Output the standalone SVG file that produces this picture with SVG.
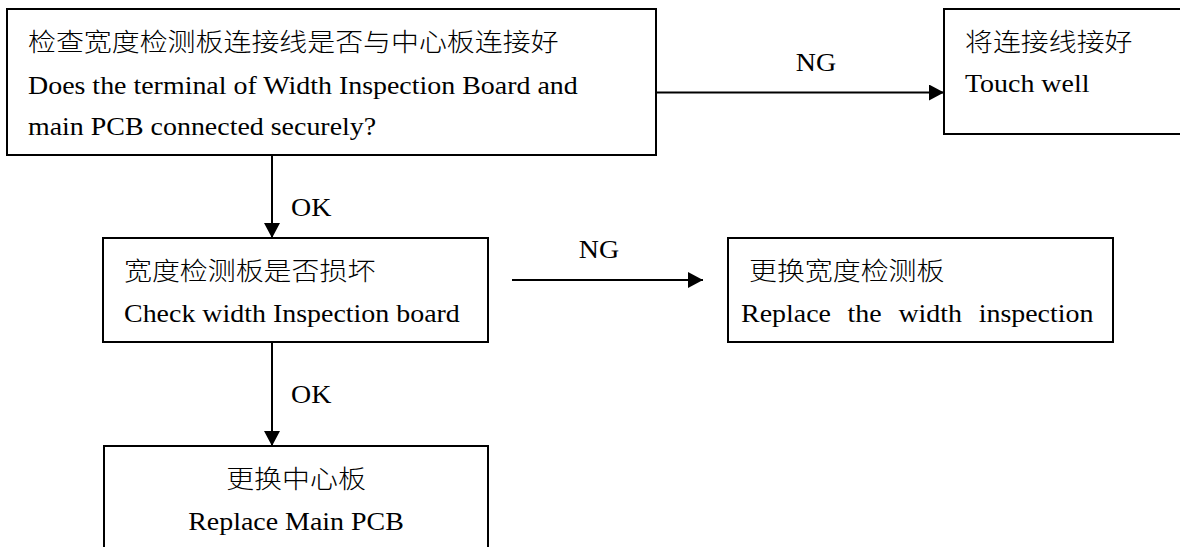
<svg xmlns="http://www.w3.org/2000/svg" width="1180" height="547" viewBox="0 0 1180 547">
<defs>
<style>
.box{fill:#fff;stroke:#000;stroke-width:2}
.conn{fill:none;stroke:#000;stroke-width:2}
.t{font-family:"Liberation Serif","Times New Roman","DejaVu Serif",serif;font-size:24.5px;fill:#000}
.cjk{font-family:"Noto Sans CJK SC","Noto Sans CJK JP",sans-serif;font-weight:300}
.mid{text-anchor:middle}
</style>
<marker id="arr" markerUnits="userSpaceOnUse" markerWidth="16" markerHeight="16" refX="15" refY="8" orient="auto" viewBox="0 0 16 16">
<path d="M0,0 L15,8 L0,16 Z" fill="#000"/>
</marker>
</defs>
<rect width="1180" height="547" fill="#fff"/>
<g id="connectors">
<line class="conn" x1="656" y1="92.5" x2="944" y2="92.5" marker-end="url(#arr)"/>
<line class="conn" x1="272" y1="155" x2="272" y2="238" marker-end="url(#arr)"/>
<line class="conn" x1="512" y1="280" x2="703" y2="280" marker-end="url(#arr)"/>
<line class="conn" x1="272" y1="342" x2="272" y2="446" marker-end="url(#arr)"/>
<text class="t mid" transform="translate(816,71) scale(1.14,1)">NG</text>
<text class="t" transform="translate(291,216) scale(1.14,1)">OK</text>
<text class="t mid" transform="translate(599,258) scale(1.14,1)">NG</text>
<text class="t" transform="translate(291,403) scale(1.14,1)">OK</text>
</g>
<g id="node-check-terminal">
<rect class="box" x="7" y="9" width="649" height="146"/>
<text class="t cjk" transform="translate(28,51) scale(1.14,1)">检查宽度检测板连接线是否与中心板连接好</text>
<text class="t" transform="translate(28,94) scale(1.14,1)">Does the terminal of Width Inspection Board and</text>
<text class="t" transform="translate(28,135) scale(1.14,1)">main PCB connected securely?</text>
</g>
<g id="node-touch-well">
<rect class="box" x="944" y="9" width="260" height="125"/>
<text class="t cjk" transform="translate(965,51) scale(1.14,1)">将连接线接好</text>
<text class="t" transform="translate(965,92) scale(1.14,1)">Touch well</text>
</g>
<g id="node-check-board">
<rect class="box" x="103" y="238" width="385" height="104"/>
<text class="t cjk" transform="translate(124,280) scale(1.14,1)">宽度检测板是否损坏</text>
<text class="t" transform="translate(124,322) scale(1.14,1)">Check width Inspection board</text>
</g>
<g id="node-replace-board">
<rect class="box" x="728" y="238" width="385" height="104"/>
<text class="t cjk" transform="translate(749,280) scale(1.14,1)">更换宽度检测板</text>
<text class="t" transform="translate(741,322) scale(1.14,1)" word-spacing="8.5">Replace the width inspection</text>
</g>
<g id="node-replace-main">
<rect class="box" x="104" y="446" width="384" height="130"/>
<text class="t cjk mid" transform="translate(296,488) scale(1.14,1)">更换中心板</text>
<text class="t mid" transform="translate(296,530) scale(1.14,1)">Replace Main PCB</text>
</g>
</svg>
